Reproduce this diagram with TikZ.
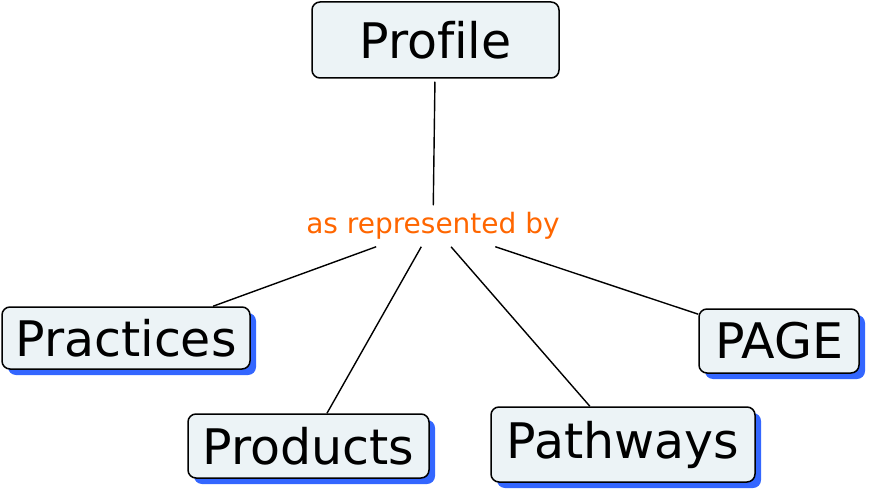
\documentclass[tikz,border=0pt]{standalone}
\usepackage{fontspec}
\setmainfont{DejaVu Sans}[Ligatures=NoCommon]
\usepackage{tikz}
\usetikzlibrary{shadows}
\definecolor{caixafundo}{RGB}{236,243,246}
\definecolor{sombra}{RGB}{51,102,255}
\definecolor{laranja}{RGB}{255,102,0}

\begin{document}
\begin{tikzpicture}[x=1pt,y=-1pt]
\tikzstyle{concept}=[rectangle, rounded corners=8pt, draw=black, line width=1.5pt, fill=caixafundo, inner sep=0pt, font=\fontsize{49}{58}\selectfont]
\tikzstyle{shadowed}=[drop shadow={shadow xshift=6pt, shadow yshift=-6pt, fill=sombra, opacity=1}]
\tikzstyle{phrase}=[inner sep=7pt, text=laranja, font=\fontsize{28}{34}\selectfont]
\tikzstyle{link}=[draw=black, line width=1.4pt]
\useasboundingbox (0,0) rectangle (870,492);
 \node[concept, minimum width=247pt, minimum height=76pt] (profile) at (435.5,40) {Profile};
 \node[phrase] (rep) at (433,226) {as represented by};
 \node[concept, shadowed, minimum width=248pt, minimum height=62pt] (practices) at (126,338) {Practices};
 \node[concept, shadowed, minimum width=241pt, minimum height=64pt] (products) at (308.5,446) {Products};
 \node[concept, shadowed, minimum width=264pt, minimum height=75pt] (pathways) at (623,444.5) {Pathways};
 \node[concept, shadowed, minimum width=160pt, minimum height=64pt] (page) at (779,341) {PAGE};
 \draw[link, shorten <=3pt] (profile) -- (rep);
 \draw[link] (rep) -- (practices);
 \draw[link] (rep) -- (products);
 \draw[link] (rep) -- (pathways);
 \draw[link] (rep) -- (page);
\end{tikzpicture}
\end{document}
